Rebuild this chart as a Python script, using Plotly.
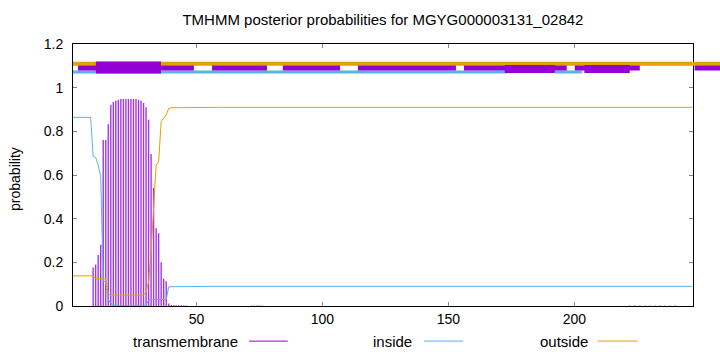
import plotly.graph_objects as go

# ---------------- data ----------------
# transmembrane posterior probability (impulses), per residue
tm_res = [9, 10, 11, 12, 13, 14, 15, 16, 17, 18, 19, 20, 21, 22, 23, 24, 25, 26,
          27, 28, 29, 30, 31, 32, 33, 34, 35, 36, 37, 38, 39, 40,
          41, 42, 43, 44, 45, 46,
          72, 73, 74, 75, 76,
          222, 224, 226, 228, 230, 232, 234, 236, 238, 240]
tm_val = [0.176, 0.19, 0.234, 0.28, 0.76, 0.76, 0.833, 0.922, 0.934, 0.94, 0.945,
          0.948, 0.948, 0.948, 0.948, 0.948, 0.948, 0.948,
          0.945, 0.94, 0.93, 0.91, 0.853, 0.696, 0.54, 0.356, 0.333, 0.2, 0.125,
          0.113, 0.012, 0.005,
          0.004, 0.004, 0.003, 0.003, 0.002, 0.002,
          0.002, 0.002, 0.002, 0.002, 0.002,
          0.002, 0.002, 0.002, 0.002, 0.002, 0.002, 0.002, 0.002, 0.002, 0.002]

# inside posterior probability (line)
in_res = [1, 8, 9, 10, 11, 12, 13, 14, 15, 16, 17, 18, 19, 29, 30, 31, 32, 38, 39, 55, 247]
in_val = [0.864, 0.864, 0.685, 0.68, 0.645, 0.595, 0.115, 0.11, 0.03, 0.012, 0.006,
          0.004, 0.003, 0.003, 0.006, 0.025, 0.03, 0.03, 0.088, 0.09, 0.09]

# outside posterior probability (line)
out_res = [1, 9, 10, 14, 15, 16, 29, 30, 31, 32, 33, 34, 35, 36, 37, 38, 39, 40, 60, 247]
out_val = [0.138, 0.138, 0.125, 0.124, 0.055, 0.05, 0.05, 0.065, 0.11, 0.25, 0.45,
           0.645, 0.66, 0.845, 0.86, 0.875, 0.905, 0.908, 0.91, 0.91]

# topology bars drawn above the curves (segment start / end residues)
out_bar_start = [1]
out_bar_end = [258]
in_bar_start = [1, 192.3]
in_bar_end = [173.2, 203]
tm_bar_start = [3, 56.2, 84.3, 114.1, 156.2, 200.2, 247.8]
tm_bar_end = [49, 78, 107, 153, 197, 226, 258]
tm_wide_start = [10.1]
tm_wide_end = [35.9]
tm_mid_start = [172.4, 204]
tm_mid_end = [192.3, 222]

x_ticks = [50, 100, 150, 200]
y_ticks = [0, 0.2, 0.4, 0.6, 0.8, 1.0, 1.2]
y_tick_text = ["0", "0.2", "0.4", "0.6", "0.8", "1", "1.2"]
title_text = "TMHMM posterior probabilities for MGYG000003131_02842"
legend_names = ["transmembrane", "inside", "outside"]

# ---------------- styles ----------------
C_TM = "#9400d3"
C_TM_IMP = "#a436e2"
C_IN = "#56b4e9"
C_OUT = "#e69f00"
FONT = "Liberation Sans"
X_RANGE = [1, 247]
Y_RANGE = [0, 1.2]
XDOM = 0.9578
X2_RANGE = [247, 257.84]
Y_OUT_BAR = 1.110
Y_TM_BAR = 1.090
Y_IN_BAR = 1.072
Y_TM_MID = 1.085
Y_TM_WIDE = 1.092


def segs(starts, ends, level):
    xs, ys = [], []
    for s, e in zip(starts, ends):
        xs += [s, e, None]
        ys += [level, level, None]
    return xs, ys


def impulses(xs_in, vals):
    xs, ys = [], []
    for r, v in zip(xs_in, vals):
        xs += [r, r, None]
        ys += [0, v, None]
    return xs, ys


fig = go.Figure()

ix, iy = impulses(tm_res, tm_val)
fig.add_trace(go.Scatter(x=ix, y=iy, mode="lines",
                         line=dict(color=C_TM_IMP, width=1.4),
                         name="transmembrane"))
fig.add_trace(go.Scatter(x=in_res, y=in_val, mode="lines",
                         line=dict(color=C_IN, width=1), name="inside"))
fig.add_trace(go.Scatter(x=out_res, y=out_val, mode="lines",
                         line=dict(color=C_OUT, width=1), name="outside"))

band_specs = [
    (out_bar_start, out_bar_end, Y_OUT_BAR, C_OUT, 4),
    (in_bar_start, in_bar_end, Y_IN_BAR, C_IN, 3),
    (tm_bar_start, tm_bar_end, Y_TM_BAR, C_TM, 5),
    (tm_mid_start, tm_mid_end, Y_TM_MID, C_TM, 8),
    (tm_wide_start, tm_wide_end, Y_TM_WIDE, C_TM, 12),
]
for xa in ["x", "x2"]:
    for st, en, lev, col, w in band_specs:
        bx, by = segs(st, en, lev)
        fig.add_trace(go.Scatter(x=bx, y=by, mode="lines", xaxis=xa, yaxis="y",
                                 line=dict(color=col, width=w), showlegend=False,
                                 hoverinfo="skip"))

# legend drawn gnuplot-style: text then line sample
leg_y = -0.134
leg_text_x = [0.258, 0.527, 0.799]
leg_line_x0 = [0.272, 0.5425, 0.811]
leg_line_x1 = [0.332, 0.603, 0.873]
leg_cols = [C_TM, C_IN, C_OUT]
annotations = []
shapes = []
for name, tx, l0, l1, col in zip(legend_names, leg_text_x, leg_line_x0, leg_line_x1, leg_cols):
    annotations.append(dict(text=name, x=tx, y=leg_y, xref="paper", yref="paper",
                            xanchor="right", yanchor="middle", showarrow=False,
                            font=dict(size=15, family=FONT, color="black")))
    shapes.append(dict(type="line", x0=l0, x1=l1, y0=leg_y, y1=leg_y,
                       xref="paper", yref="paper", line=dict(color=col, width=1)))

annotations.append(dict(text="probability", x=-0.0896, y=0.485, xref="paper", yref="paper",
                        textangle=-90, showarrow=False, xanchor="center", yanchor="middle",
                        font=dict(size=14, family=FONT, color="black")))

fig.update_layout(
    width=720, height=352,
    margin=dict(l=73, r=0, t=44, b=46),
    paper_bgcolor="white", plot_bgcolor="white",
    showlegend=False,
    font=dict(family=FONT, size=14, color="black"),
    title=dict(text=title_text, x=0.479, xref="paper", xanchor="center",
               y=1 - 20 / 352, yref="container", yanchor="middle",
               font=dict(size=15, family=FONT, color="black")),
    xaxis=dict(domain=[0, XDOM], range=X_RANGE, tickvals=x_ticks, ticks="inside",
               ticklen=4, tickcolor="#888888", showline=True, linecolor="black",
               linewidth=1, mirror="ticks", showgrid=False, zeroline=False,
               tickfont=dict(size=14)),
    xaxis2=dict(domain=[XDOM, 1], range=X2_RANGE, anchor="y", visible=False),
    yaxis=dict(range=Y_RANGE, tickvals=y_ticks, ticktext=y_tick_text, ticks="inside",
               ticklen=4, tickcolor="#888888", showline=True, linecolor="black",
               linewidth=1, mirror="ticks", showgrid=False, zeroline=False,
               ticklabelstandoff=6, tickfont=dict(size=14)),
    annotations=annotations,
    shapes=shapes,
)

fig.write_html("out.html")
